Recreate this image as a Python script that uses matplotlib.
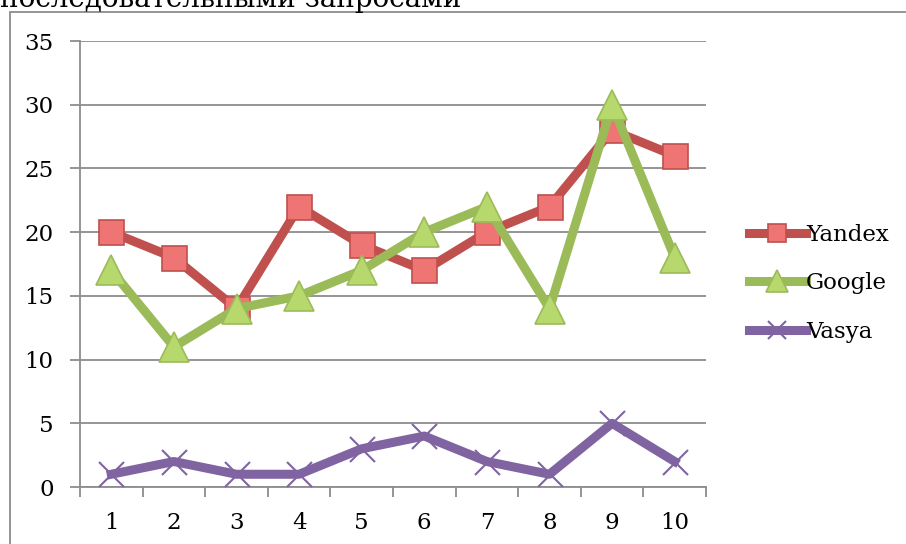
import matplotlib.pyplot as plt
import matplotlib.patches as patches
import numpy as np

# data
categories = ["1", "2", "3", "4", "5", "6", "7", "8", "9", "10"]
yandex = [20, 18, 14, 22, 19, 17, 20, 22, 28, 26]
google = [17, 11, 14, 15, 17, 20, 22, 14, 30, 18]
vasya = [1, 2, 1, 1, 3, 4, 2, 1, 5, 2]
series_names = ["Yandex", "Google", "Vasya"]
y_ticks = [0, 5, 10, 15, 20, 25, 30, 35]

fsize = 16.5
plt.rcParams['font.family'] = ['DejaVu Serif']

fig = plt.figure(figsize=(9.06, 5.44), dpi=100)
W, H = 906, 544

# outer chart frame (cut by the image edges)
frame = patches.Rectangle((10 / W, -0.2), 1.2, 1.2 - 12 / H,
                          transform=fig.transFigure, fill=False,
                          edgecolor="#8c8c8c", linewidth=1.3, clip_on=False)
fig.patches.append(frame)

# title, mostly cut off at the top
fig.text(0.0, 1 - 7 / H, "последовательными запросами", fontsize=20,
         ha="left", va="baseline", color="black")

ax = fig.add_axes([80 / W, (H - 487) / H, 626 / W, 446 / H])
x = np.arange(1, len(categories) + 1)

ax.plot(x, yandex, color="#C0504D", linewidth=6.5, marker="s", markersize=18,
        markerfacecolor="#EE7573", markeredgecolor="#C0504D",
        markeredgewidth=1.2, label=series_names[0], zorder=3,
        solid_joinstyle="round")
ax.plot(x, google, color="#9BBB59", linewidth=6.5, marker="^", markersize=21,
        markerfacecolor="#B7D86C", markeredgecolor="#9BBB59",
        markeredgewidth=1.2, label=series_names[1], zorder=4,
        solid_joinstyle="round")
ax.plot(x, vasya, color="#8064A2", linewidth=6.5, marker="x", markersize=18,
        markeredgecolor="#8064A2", markeredgewidth=1.5,
        label=series_names[2], zorder=3, solid_joinstyle="round")

ax.set_xlim(0.5, len(categories) + 0.5)
ax.set_ylim(0, 35)
ax.set_yticks(y_ticks)
ax.set_xticks(x)
ax.set_xticklabels(categories)
ax.set_xticks(np.arange(0.5, len(categories) + 1), minor=True)
ax.tick_params(axis="x", which="major", length=0, pad=18, labelsize=fsize)
ax.tick_params(axis="x", which="minor", length=7, width=1.3, color="#8c8c8c")
ax.tick_params(axis="y", length=7, width=1.3, color="#8c8c8c", pad=12,
               labelsize=fsize)

ax.grid(axis="y", color="#8c8c8c", linewidth=1.3)
ax.set_axisbelow(True)
for side in ["top", "right"]:
    ax.spines[side].set_visible(False)
for side in ["left", "bottom"]:
    ax.spines[side].set_color("#8c8c8c")
    ax.spines[side].set_linewidth(1.3)

ax.legend(loc="center left", bbox_to_anchor=(1.035, 0.457), frameon=False,
          fontsize=fsize, handlelength=2.5, handletextpad=0.0,
          labelspacing=1.15, markerscale=0.75)

plt.savefig("out.png", dpi=100)
